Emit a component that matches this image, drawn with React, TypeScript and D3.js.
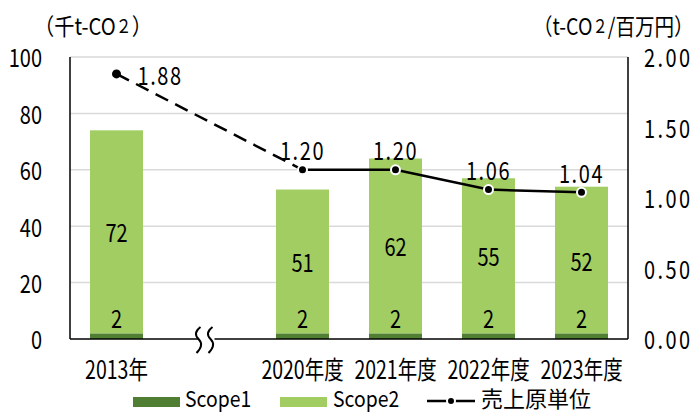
import * as d3 from 'd3';
import React from 'react';

const categories = ['2013年', '2020年度', '2021年度', '2022年度', '2023年度'];
const scope1 = [2, 2, 2, 2, 2];
const scope2 = [72, 51, 62, 55, 52];
const intensity = [1.88, 1.2, 1.2, 1.06, 1.04];
const leftTicks = [0, 20, 40, 60, 80, 100];
const rightTicks = [0, 0.5, 1.0, 1.5, 2.0];

const W = 696;
const H = 412;
const left = 70;
const right = 628;
const top = 57;
const bottom = 339;

const DARK = '#507E32';
const LIGHT = '#A1CD63';
const FONT = '"Noto Sans CJK JP", "Noto Sans", sans-serif';

// slots: first category, a break slot, then the rest
const slots = [categories[0], '__break__', ...categories.slice(1)];

const x = d3
  .scaleBand<string>()
  .domain(slots)
  .range([left, right])
  .paddingInner(0.43)
  .paddingOuter(0.215);

const y = d3.scaleLinear().domain([0, 100]).range([bottom, top]);
const y2 = d3.scaleLinear().domain([0, 2]).range([bottom, top]);

const cx = (c: string) => (x(c) as number) + x.bandwidth() / 2;

const T = ({ x, y, anchor = 'middle', size = 25, sx = 0.8, spacing = 0, children }: any) => (
  <text
    transform={`translate(${x},${y}) scale(${sx},1)`}
    textAnchor={anchor}
    dominantBaseline="central"
    fontFamily={FONT}
    fontSize={size}
    letterSpacing={spacing}
    fill="#000"
  >
    {children}
  </text>
);

const App = () => {
  const pts = categories.map((c, i) => [cx(c), y2(intensity[i])] as [number, number]);
  const line = d3.line();
  const breakX = cx('__break__');

  const sPath = (px: number) =>
    `M${px + 2},${bottom - 12} Q${px - 6},${bottom - 6} ${px},${bottom} Q${px + 6},${bottom + 6} ${px - 2},${bottom + 14}`;

  return (
    <svg width={W} height={H} style={{ position: 'absolute', left: 0, top: 0, background: '#fff' }}>
      {/* grid */}
      {leftTicks.filter((t) => t > 0).map((t) => (
        <line key={t} x1={left} x2={right} y1={y(t)} y2={y(t)} stroke="#d9d9d9" strokeWidth={1.5} />
      ))}

      {/* bars */}
      {categories.map((c, i) => {
        const bx = x(c) as number;
        const bw = x.bandwidth();
        const s1top = y(scope1[i]);
        const s2top = y(scope1[i] + scope2[i]);
        return (
          <g key={c}>
            <rect x={bx} y={s1top} width={bw} height={bottom - s1top} fill={DARK} />
            <rect x={bx} y={s2top} width={bw} height={s1top - s2top} fill={LIGHT} />
            <T x={cx(c)} y={(s1top + s2top) / 2}>{scope2[i]}</T>
            <T x={cx(c)} y={s1top - 16}>{scope1[i]}</T>
          </g>
        );
      })}

      {/* axes */}
      <line x1={left} x2={left} y1={top} y2={bottom} stroke="#000" strokeWidth={1.5} />
      <line x1={right} x2={right} y1={top} y2={bottom} stroke="#000" strokeWidth={1.5} />
      <line x1={left} x2={right} y1={bottom} y2={bottom} stroke="#000" strokeWidth={1.5} />

      {/* axis break */}
      <rect x={breakX - 11} y={bottom - 3} width={16} height={6} fill="#fff" />
      <path d={sPath(breakX - 11)} fill="none" stroke="#000" strokeWidth={2} />
      <path d={sPath(breakX + 1)} fill="none" stroke="#000" strokeWidth={2} />

      {/* left ticks */}
      {leftTicks.map((t) => (
        <T key={t} x={42} y={y(t)} anchor="end">{t}</T>
      ))}
      {/* right ticks */}
      {rightTicks.map((t) => (
        <T key={t} x={644} y={y2(t)} anchor="start" spacing={3}>{t.toFixed(2)}</T>
      ))}

      {/* unit labels */}
      <T x={34} y={25} anchor="start" size={23} sx={0.88}>
        （千t-CO<tspan fontSize={18}>２</tspan>）
      </T>
      <T x={533} y={25} anchor="start" size={23} sx={0.85}>
        （t-CO<tspan fontSize={18}>２</tspan>/百万円）
      </T>

      {/* category labels */}
      {categories.map((c) => (
        <T key={c} x={cx(c)} y={368} sx={0.78}>{c}</T>
      ))}

      {/* intensity line */}
      <path d={line([pts[0], pts[1]]) as string} fill="none" stroke="#000" strokeWidth={2.5} strokeDasharray="14 8" />
      <path d={line(pts.slice(1)) as string} fill="none" stroke="#000" strokeWidth={2.5} />
      {pts.map((p, i) => (
        <circle key={i} cx={p[0]} cy={p[1]} r={4.5} fill="#000" stroke="#fff" strokeWidth={i === 0 ? 0 : 2} />
      ))}
      {pts.map((p, i) =>
        i === 0 ? (
          <T key={i} x={p[0] + 21} y={p[1] + 1} anchor="start" spacing={2}>{intensity[i].toFixed(2)}</T>
        ) : (
          <T key={i} x={p[0]} y={p[1] - 20} spacing={2}>{intensity[i].toFixed(2)}</T>
        ),
      )}

      {/* legend */}
      <rect x={133} y={397} width={47} height={10} fill={DARK} />
      <T x={185} y={397} anchor="start" size={22} sx={0.88}>Scope1</T>
      <rect x={280} y={397} width={47} height={10} fill={LIGHT} />
      <T x={333} y={397} anchor="start" size={22} sx={0.88}>Scope2</T>
      <line x1={427} x2={475} y1={401} y2={401} stroke="#000" strokeWidth={2.5} />
      <circle cx={451} cy={401} r={4} fill="#000" stroke="#fff" strokeWidth={2} />
      <T x={481} y={397} anchor="start" size={22} sx={1}>売上原単位</T>
    </svg>
  );
};

export default App;
